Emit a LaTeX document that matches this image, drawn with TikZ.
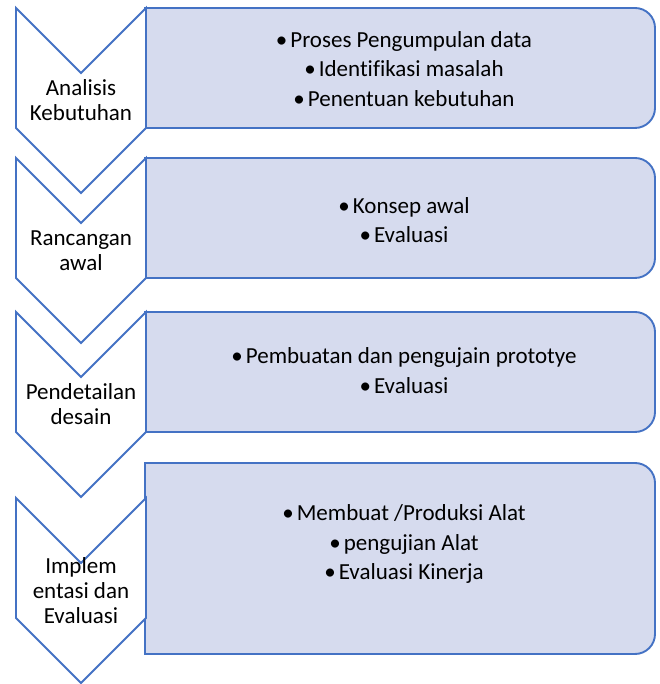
\documentclass[tikz,border=0pt]{standalone}
\usepackage{fontspec}
\setmainfont{Carlito}[Ligatures=NoCommon]
\definecolor{smartblue}{HTML}{4472C4}
\definecolor{smartfill}{HTML}{D6DBEE}
\tikzset{
  chevline/.style={draw=smartblue,line width=1.9pt,fill=white},
  boxline/.style={draw=smartblue,line width=1.9pt,fill=smartfill},
  chevtext/.style={align=center,inner sep=0pt,font=\fontsize{23}{25}\selectfont},
  tasktext/.style={align=center,inner sep=0pt,font=\fontsize{23}{29.3}\selectfont}
}
\newcommand{\itm}{\textbullet\hspace{3pt}}

\begin{document}
\begin{tikzpicture}[x=1pt,y=1pt]
  \useasboundingbox (0,0) rectangle (659,684);
  % boxes, rounded on the right
  \foreach \a/\b in {676/556,526/406,372/252,221/30}{
    \draw[boxline] (145,\a) -- (635,\a) arc[start angle=90,end angle=0,radius=20pt]
      -- (655,\b+20) arc[start angle=0,end angle=-90,radius=20pt] -- (145,\b) -- cycle;
  }
  % chevrons
  \foreach \t/\lab [count=\i] in {676/{Analisis\\Kebutuhan},526/{Rancangan\\awal},
      372/{Pendetailan\\desain},186/{Implem\\entasi dan\\Evaluasi}}{
    \draw[chevline] (16,\t) -- (81,\t-65) -- (146,\t) -- (146,\t-120)
      -- (81,\t-185) -- (16,\t-120) -- cycle;
    \node[chevtext] (chev\i) at (81,\t-92.5) {\lab};
  }
  % tasks
  \node[tasktext] (task1) at (404,615) {\itm Proses Pengumpulan data\\\itm Identifikasi masalah\\\itm Penentuan kebutuhan};
  \node[tasktext] (task2) at (404,464) {\itm Konsep awal\\\itm Evaluasi};
  \node[tasktext] (task3) at (404,313.5) {\itm Pembuatan dan pengujain prototye\\\itm Evaluasi};
  \node[tasktext] (task4) at (404,140) {\itm Membuat /Produksi Alat\\\itm pengujian Alat\\\itm Evaluasi Kinerja};
\end{tikzpicture}
\end{document}
